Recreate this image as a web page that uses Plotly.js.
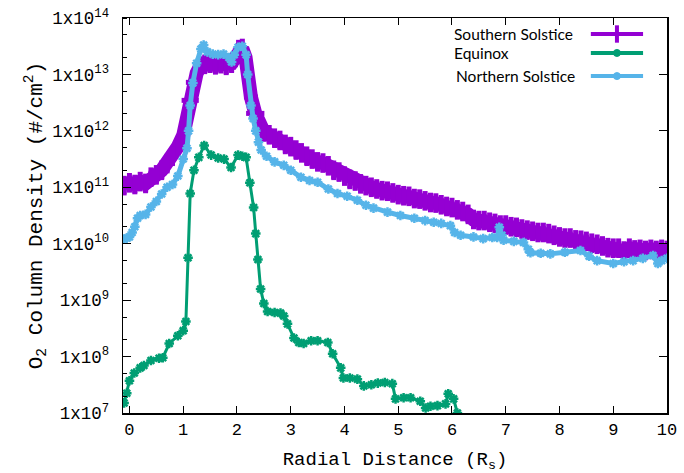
<!DOCTYPE html>
<html>
<head>
<meta charset="utf-8">
<script src="https://cdn.plot.ly/plotly-3.0.1.min.js"></script>
<style>html,body{margin:0;padding:0;background:#fff;}#chart{width:684px;height:473px;}</style>
</head>
<body>
<div id="chart"></div>
<script>
// ---- data ----
const seriesNames = ["Southern Solstice", "Equinox", "Northern Solstice"];

const southX = [-0.1,0.0,0.1,0.2,0.3,0.4,0.5,0.6,0.7,0.8,0.9,1.0,1.07,1.13,1.18,1.25,1.32,1.4,1.5,1.6,1.7,1.8,1.9,1.97,2.03,2.1,2.16,2.2,2.26,2.34,2.42,2.5,2.6,2.7,2.8,2.9,3.0,3.1,3.2,3.3,3.4,3.5,3.6,3.7,3.8,3.9,4.0,4.1,4.2,4.3,4.4,4.5,4.6,4.7,4.8,4.9,5.0,5.1,5.2,5.3,5.4,5.5,5.6,5.7,5.8,5.9,6.0,6.1,6.2,6.3,6.4,6.5,6.6,6.7,6.8,6.9,7.0,7.1,7.2,7.3,7.4,7.5,7.6,7.7,7.8,7.9,8.0,8.1,8.2,8.3,8.4,8.5,8.6,8.7,8.8,8.9,9.0,9.1,9.2,9.3,9.4,9.5,9.6,9.7,9.8,9.9,10.0];
const southY = [1.07e11,1.2e11,1.12e11,1.26e11,1.17e11,1.51e11,1.66e11,2.0e11,2.63e11,3.55e11,5.25e11,8.32e11,1.58e12,3.47e12,7.24e12,1.05e13,1.41e13,1.51e13,1.58e13,1.48e13,1.55e13,1.45e13,1.58e13,2.0e13,2.75e13,2.88e13,2.0e13,8.91e12,3.98e12,2.04e12,1.12e12,9.55e11,8.51e11,7.41e11,6.76e11,5.75e11,5.25e11,4.57e11,4.07e11,3.55e11,3.16e11,2.82e11,2.69e11,2.4e11,2.0e11,1.86e11,1.58e11,1.38e11,1.29e11,1.15e11,1.07e11,1.0e11,9.33e10,8.71e10,8.51e10,7.94e10,7.41e10,7.08e10,6.92e10,6.31e10,6.17e10,5.75e10,5.37e10,5.25e10,4.9e10,4.57e10,4.37e10,3.98e10,3.72e10,3.31e10,2.69e10,2.57e10,2.57e10,2.4e10,2.29e10,2.14e10,2.14e10,2.0e10,1.95e10,1.82e10,1.74e10,1.66e10,1.58e10,1.58e10,1.51e10,1.41e10,1.32e10,1.26e10,1.26e10,1.17e10,1.15e10,1.1e10,1.02e10,9.77e9,9.12e9,8.51e9,8.32e9,8.32e9,7.41e9,8.32e9,7.76e9,7.94e9,7.59e9,7.94e9,7.59e9,7.94e9,7.59e9];
// half-width of the radial bin of each Southern Solstice point
const southXErr = [0.05,0.05,0.05,0.05,0.05,0.05,0.05,0.05,0.05,0.05,0.05,0.05,0.08,0.16,0.13,0.08,0.05,0.05,0.05,0.05,0.05,0.05,0.05,0.05,0.05,0.05,0.05,0.06,0.13,0.17,0.08,0.05,0.05,0.05,0.05,0.05,0.05,0.05,0.05,0.05,0.05,0.05,0.05,0.05,0.05,0.05,0.05,0.05,0.05,0.05,0.05,0.05,0.05,0.05,0.05,0.05,0.05,0.05,0.05,0.05,0.05,0.05,0.05,0.05,0.05,0.05,0.05,0.05,0.05,0.05,0.05,0.05,0.05,0.05,0.05,0.05,0.05,0.05,0.05,0.05,0.05,0.05,0.05,0.05,0.05,0.05,0.05,0.05,0.05,0.05,0.05,0.05,0.05,0.05,0.05,0.05,0.05,0.05,0.05,0.05,0.05,0.05,0.05,0.05,0.05,0.05,0.05];

const equinoxX = [-0.1,-0.05,0.0,0.09,0.2,0.27,0.4,0.55,0.62,0.74,0.9,1.0,1.05,1.09,1.13,1.2,1.29,1.39,1.52,1.65,1.76,1.89,2.02,2.1,2.17,2.24,2.31,2.35,2.39,2.44,2.5,2.57,2.7,2.81,2.87,2.94,3.06,3.15,3.24,3.38,3.5,3.69,3.78,3.93,3.98,4.1,4.24,4.36,4.5,4.62,4.75,4.89,4.95,5.1,5.23,5.41,5.51,5.6,5.73,5.88,5.93,6.03,6.1];
const equinoxY = [1.51e7,2.24e7,3.72e7,5.13e7,6.31e7,6.92e7,8.51e7,9.33e7,9.55e7,1.7e8,2.34e8,2.88e8,4.17e8,5.62e9,7.76e10,2.0e11,3.39e11,5.5e11,3.72e11,3.31e11,3.16e11,2.24e11,3.72e11,3.55e11,3.39e11,1.2e11,4.37e10,1.51e10,5.25e9,1.58e9,8.71e8,6.31e8,6.03e8,5.89e8,5.25e8,3.8e8,2.14e8,1.78e8,1.7e8,1.91e8,1.91e8,1.78e8,1.12e8,6.31e7,4.17e7,4.17e7,3.98e7,3.02e7,3.16e7,3.39e7,3.47e7,3.31e7,1.78e7,1.86e7,1.86e7,1.62e7,1.23e7,1.32e7,1.35e7,1.45e7,2.19e7,1.78e7,1.0e7];

const northX = [-0.1,-0.05,0.0,0.05,0.1,0.15,0.2,0.3,0.4,0.5,0.6,0.7,0.8,0.9,1.0,1.07,1.1,1.13,1.18,1.25,1.33,1.38,1.45,1.55,1.65,1.75,1.85,1.9,1.95,2.02,2.1,2.17,2.2,2.26,2.3,2.35,2.4,2.45,2.55,2.7,2.87,3.0,3.19,3.35,3.5,3.7,3.87,4.05,4.24,4.4,4.54,4.8,5.04,5.3,5.5,5.66,5.8,5.97,6.05,6.16,6.4,6.58,6.75,6.84,6.88,6.93,6.96,7.15,7.33,7.42,7.46,7.65,7.83,8.1,8.39,8.55,8.7,9.0,9.2,9.37,9.55,9.74,9.83,9.9,10.0];
const northY = [1.2e10,1.26e10,1.32e10,1.58e10,2.0e10,2.82e10,3.16e10,3.31e10,4.47e10,5.62e10,7.59e10,1.0e11,1.12e11,1.58e11,3.16e11,4.9e11,1.0e12,2.82e12,7.08e12,1.58e13,2.82e13,3.31e13,2.51e13,2.29e13,2.24e13,2.29e13,2.0e13,1.66e13,2.24e13,3.02e13,3.16e13,2.24e13,1.0e13,2.82e12,1.66e12,1.0e12,6.31e11,4.57e11,3.55e11,2.82e11,2.45e11,2.0e11,1.51e11,1.32e11,1.23e11,9.33e10,7.76e10,6.92e10,5.89e10,4.79e10,4.27e10,3.63e10,3.16e10,2.82e10,2.57e10,2.4e10,2.29e10,2.09e10,1.58e10,1.41e10,1.32e10,1.23e10,1.29e10,1.29e10,1.95e10,1.41e10,1.15e10,1.1e10,1.05e10,7.94e9,6.92e9,6.76e9,6.61e9,7.08e9,7.59e9,6.03e9,5.01e9,4.47e9,4.79e9,5.01e9,5.5e9,6.17e9,4.47e9,5.01e9,5.5e9];

const xTicks = [0,1,2,3,4,5,6,7,8,9,10];
const yTickExps = [7,8,9,10,11,12,13,14];

// ---- styles ----
const PURPLE = "#9400D3", GREEN = "#009E73", BLUE = "#56B4E9";
const MONO = "Liberation Mono, DejaVu Sans Mono, monospace";

const traces = [
  {
    x: southX, y: southY, name: seriesNames[0], type: "scatter", mode: "lines+markers",
    line: {color: PURPLE, width: 14},
    marker: {symbol: "line-ns", size: 14, color: PURPLE, line: {color: PURPLE, width: 5}},
    error_x: {type: "data", array: southXErr, color: PURPLE, thickness: 5, width: 0},
    error_y: {type: "percent", value: 30, color: PURPLE, thickness: 5, width: 0},
    showlegend: false
  },
  {
    x: northX, y: northY, name: seriesNames[2], type: "scatter", mode: "lines+markers",
    line: {color: BLUE, width: 5},
    marker: {symbol: "asterisk-open", size: 8, color: BLUE, line: {color: BLUE, width: 2.5}},
    showlegend: false
  },
  {
    x: equinoxX, y: equinoxY, name: seriesNames[1], type: "scatter", mode: "lines+markers",
    line: {color: GREEN, width: 3},
    marker: {symbol: "asterisk-open", size: 8, color: GREEN, line: {color: GREEN, width: 2.5}},
    showlegend: false
  },
  // empty trace so the overlay axis (inside major ticks) gets drawn
  {x: [], y: [], type: "scatter", mode: "lines", yaxis: "y2", showlegend: false, hoverinfo: "skip"}
];

// legend drawn to mimic gnuplot's key (text left, sample right)
const legendY = [0.9595, 0.9115, 0.853];
const legendTextX = [0.605, 0.605, 0.609];
const legendOrder = [0, 1, 2];
const legendColors = [PURPLE, GREEN, BLUE];
const annotations = legendOrder.map((k, i) => ({
  xref: "paper", yref: "paper", x: legendTextX[i], y: legendY[i],
  xanchor: "left", yanchor: "middle", showarrow: false,
  text: seriesNames[k], font: {family: "Lato, Open Sans, sans-serif", size: 15.5, color: "#000"}
}));
const shapes = [];
legendOrder.forEach((k, i) => {
  shapes.push({type: "line", xref: "paper", yref: "paper", x0: 0.860, x1: 0.956, y0: legendY[i], y1: legendY[i],
    line: {color: legendColors[i], width: 4}});
});
shapes.push({type: "line", xref: "paper", yref: "paper", x0: 0.908, x1: 0.908, y0: legendY[0] - 0.022, y1: legendY[0] + 0.022,
  line: {color: PURPLE, width: 4}});
[1, 2].forEach(i => {
  shapes.push({type: "circle", xref: "paper", yref: "paper", xsizemode: "pixel", ysizemode: "pixel",
    xanchor: 0.908, yanchor: legendY[i], x0: -3.5, x1: 3.5, y0: -3.5, y1: 3.5,
    fillcolor: legendColors[i], line: {color: legendColors[i], width: 1}});
});

const yTickVals = yTickExps.map(e => Math.pow(10, e));

const layout = {
  width: 684, height: 473,
  margin: {l: 123, r: 17, t: 18, b: 60, pad: 0},
  paper_bgcolor: "#fff", plot_bgcolor: "#fff",
  showlegend: false,
  xaxis: {
    range: [-0.12, 10.0], tickvals: xTicks, ticktext: xTicks.map(String),
    ticks: "inside", ticklen: 7, tickwidth: 1, tickcolor: "#000",
    showline: true, linecolor: "#000", linewidth: 1.5, mirror: "ticks",
    showgrid: false, zeroline: false,
    tickfont: {family: MONO, size: 17, color: "#000"},
    title: {text: "Radial Distance (R<sub>s</sub>)", font: {family: MONO, size: 19, color: "#000"}, standoff: 14}
  },
  yaxis: {
    type: "log", range: [7, 14],
    tickvals: yTickVals,
    ticktext: yTickExps.map(e => "1x10<sup>" + e + "</sup>"),
    // transparent outside ticks only push the labels away from the axis
    ticks: "outside", ticklen: 9, tickwidth: 1, tickcolor: "rgba(0,0,0,0)",
    minor: {ticks: "inside", ticklen: 4, tickcolor: "#000", dtick: "D2", showgrid: false},
    showline: true, linecolor: "#000", linewidth: 1.5, mirror: true,
    showgrid: false, zeroline: false,
    tickfont: {family: MONO, size: 17.5, color: "#000"},
    title: {text: "O<sub>2</sub> Column Density (#/cm<sup>2</sup>)", font: {family: MONO, size: 21, color: "#000"}, standoff: 4}
  },
  yaxis2: {
    type: "log", range: [7, 14], overlaying: "y", side: "left",
    tickvals: yTickVals, showticklabels: false,
    ticks: "inside", ticklen: 8, tickwidth: 1, tickcolor: "#000",
    showline: false, mirror: "ticks", showgrid: false, zeroline: false
  },
  annotations: annotations,
  shapes: shapes
};

Plotly.newPlot("chart", traces, layout, {staticPlot: true, displayModeBar: false});
</script>
</body>
</html>
